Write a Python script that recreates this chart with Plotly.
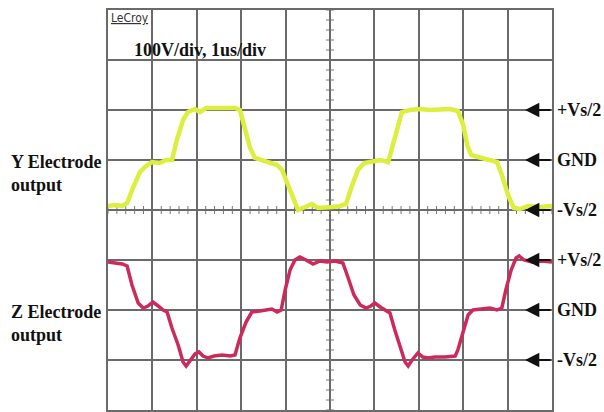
import plotly.graph_objects as go

# time in microseconds (1 us/div), amplitude in screen divisions (100 V/div)
y_time = [0.00, 0.16, 0.32, 0.43, 0.56, 0.72, 0.86, 0.99, 1.17, 1.31, 1.44, 1.55, 1.69, 1.80,
          1.96, 2.07, 2.21, 2.41, 2.64, 2.86, 2.97, 3.09, 3.20, 3.31, 3.47, 3.65, 3.81, 3.92,
          4.05, 4.19, 4.28, 4.44, 4.59, 4.73, 4.89, 5.05, 5.23, 5.36, 5.50, 5.63, 5.77, 5.95,
          6.13, 6.31, 6.42, 6.53, 6.62, 6.80, 7.03, 7.25, 7.48, 7.70, 7.88, 8.00, 8.09, 8.18,
          8.33, 8.56, 8.76, 8.87, 9.01, 9.14, 9.28, 9.46, 9.73, 10.0]
y_vals = [4.08, 4.10, 4.08, 4.14, 4.44, 4.76, 4.88, 4.96, 4.94, 5.00, 5.00, 5.40, 5.80, 5.96,
          6.02, 5.96, 6.04, 6.04, 6.02, 6.04, 6.00, 5.60, 5.24, 5.04, 5.00, 4.94, 4.90, 4.80,
          4.50, 4.20, 4.00, 4.06, 4.12, 4.04, 4.04, 4.06, 4.08, 4.12, 4.50, 4.80, 4.94, 4.96,
          5.00, 4.96, 5.30, 5.70, 5.96, 6.00, 6.02, 6.00, 6.02, 6.02, 5.98, 5.70, 5.30, 5.10,
          5.06, 5.00, 4.96, 4.70, 4.30, 4.04, 4.02, 4.08, 4.06, 4.08]

z_time = [0.00, 0.16, 0.32, 0.43, 0.54, 0.68, 0.79, 0.90, 1.01, 1.13, 1.24, 1.33, 1.44, 1.58,
          1.69, 1.76, 1.85, 1.96, 2.05, 2.14, 2.25, 2.39, 2.57, 2.75, 2.86, 2.97, 3.11, 3.24,
          3.42, 3.60, 3.69, 3.81, 3.90, 3.99, 4.10, 4.21, 4.32, 4.46, 4.62, 4.77, 4.93, 5.11,
          5.29, 5.41, 5.54, 5.68, 5.81, 5.92, 6.01, 6.13, 6.26, 6.35, 6.46, 6.58, 6.69, 6.76,
          6.85, 6.98, 7.09, 7.21, 7.36, 7.59, 7.82, 7.88, 8.00, 8.11, 8.22, 8.42, 8.60, 8.76,
          8.87, 8.96, 9.08, 9.19, 9.26, 9.37, 9.55, 9.77, 10.0]
z_vals = [2.96, 2.94, 2.92, 2.88, 2.50, 2.14, 2.04, 2.08, 2.16, 2.08, 2.00, 1.96, 1.64, 1.30,
          0.96, 0.88, 1.00, 1.12, 1.16, 1.08, 1.04, 1.08, 1.10, 1.08, 1.10, 1.44, 1.76, 1.96,
          1.98, 2.00, 2.02, 1.96, 2.00, 2.40, 2.80, 3.00, 3.06, 3.00, 2.92, 2.98, 2.96, 2.98,
          2.94, 2.64, 2.30, 2.10, 2.04, 2.08, 2.14, 2.06, 1.98, 1.94, 1.60, 1.24, 0.96, 0.88,
          1.00, 1.14, 1.06, 1.04, 1.06, 1.06, 1.08, 1.20, 1.60, 1.90, 2.00, 2.02, 2.04, 2.00,
          2.04, 2.40, 2.80, 3.04, 3.08, 3.00, 2.96, 2.98, 2.96]

right_labels = ["+Vs/2", "GND", "-Vs/2", "+Vs/2", "GND", "-Vs/2"]
right_levels = [6, 5, 4, 3, 2, 1]

fig = go.Figure()
fig.add_trace(go.Scatter(x=y_time, y=y_vals, mode="lines",
                         line=dict(color="#dcee3e", width=4.5), hoverinfo="skip"))
fig.add_trace(go.Scatter(x=z_time, y=z_vals, mode="lines",
                         line=dict(color="#cc2a5c", width=3.5), hoverinfo="skip"))

shapes = []
# minor ticks along centre axes
for i in range(51):
    xv = i * 0.2
    shapes.append(dict(type="line", xref="x", yref="y", x0=xv, x1=xv, y0=3.92, y1=4.08,
                       line=dict(color="#777", width=1), layer="below"))
for i in range(41):
    yv = i * 0.2
    shapes.append(dict(type="line", xref="x", yref="y", x0=4.91, x1=5.09, y0=yv, y1=yv,
                       line=dict(color="#777", width=1), layer="below"))

serif = "Liberation Serif"
annotations = [
    dict(text="<u>LeCroy</u>", x=0.03, y=7.84, xref="x", yref="y", xanchor="left",
         yanchor="middle", showarrow=False,
         font=dict(family="DejaVu Sans Condensed", size=12, color="#333")),
    dict(text="<b>100V/div, 1us/div</b>", x=0.54, y=7.2, xref="x", yref="y", xanchor="left",
         yanchor="middle", showarrow=False,
         font=dict(family=serif, size=18, color="#111")),
    dict(text="<b>Y Electrode<br>output</b>", x=-99 / 444, y=(410 - 173) / 400, xref="paper",
         yref="paper", xanchor="left", yanchor="middle", align="left", showarrow=False,
         font=dict(family=serif, size=18, color="#111")),
    dict(text="<b>Z Electrode<br>output</b>", x=-99 / 444, y=(410 - 323) / 400, xref="paper",
         yref="paper", xanchor="left", yanchor="middle", align="left", showarrow=False,
         font=dict(family=serif, size=18, color="#111")),
]
for lab, lev in zip(right_labels, right_levels):
    annotations.append(dict(text="<b>" + lab + "</b>", x=(555 - 108) / 444, y=lev, xref="paper",
                            yref="y", xanchor="left", yanchor="middle", showarrow=False,
                            font=dict(family=serif, size=18, color="#111")))
    annotations.append(dict(text="", x=(525 - 108) / 444, y=lev, xref="paper", yref="y",
                            ax=27, ay=0, axref="pixel", ayref="pixel", showarrow=True,
                            arrowhead=2, arrowsize=1.3, arrowwidth=2.2, arrowcolor="#111"))

fig.update_layout(
    width=604, height=412,
    margin=dict(l=108, r=52, t=10, b=2),
    paper_bgcolor="white", plot_bgcolor="white",
    showlegend=False,
    shapes=shapes, annotations=annotations,
    xaxis=dict(range=[0, 10], dtick=1, showticklabels=False, ticks="", zeroline=False,
               showgrid=True, gridcolor="#6a6a6a", gridwidth=1.6,
               showline=True, linecolor="#6a6a6a", linewidth=1.8, mirror=True, fixedrange=True),
    yaxis=dict(range=[0, 8], dtick=1, showticklabels=False, ticks="", zeroline=False,
               showgrid=True, gridcolor="#6a6a6a", gridwidth=1.6,
               showline=True, linecolor="#6a6a6a", linewidth=1.8, mirror=True, fixedrange=True),
)

fig.write_html("out.html", config={"displayModeBar": False},
               post_script="document.body.style.margin='0';document.body.style.overflow='hidden';")
